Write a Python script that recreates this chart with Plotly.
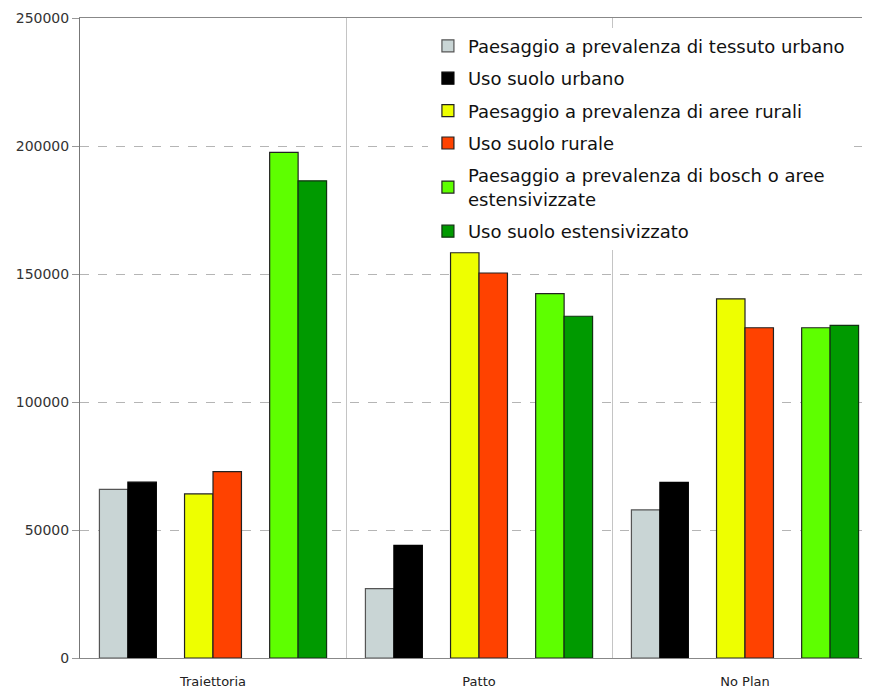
import plotly.graph_objects as go

# Scenari sull'asse x
SCENARI = ["Traiettoria", "Patto", "No Plan"]

# Valori per serie
PAES_URBANO = [65900, 27100, 57900]
USO_URBANO = [68700, 44000, 68600]
PAES_RURALE = [64100, 158300, 140300]
USO_RURALE = [72800, 150400, 129000]
PAES_BOSCHI = [197500, 142300, 129000]
USO_ESTENS = [186400, 133500, 129900]

SERIE = [
    ("Paesaggio a prevalenza di tessuto urbano", PAES_URBANO, "#c9d5d5", "#555555"),
    ("Uso suolo urbano", USO_URBANO, "#000000", "#000000"),
    ("Paesaggio a prevalenza di aree rurali", PAES_RURALE, "#eeff00", "#222222"),
    ("Uso suolo rurale", USO_RURALE, "#ff4200", "#222222"),
    ("Paesaggio a prevalenza di bosch o aree<br>estensivizzate", PAES_BOSCHI, "#5eff00", "#222222"),
    ("Uso suolo estensivizzato", USO_ESTENS, "#009a00", "#113311"),
]

# coppie di barre affiancate, separate da uno spazio
BAR_W = 0.107
PAIR_STEP = 0.32
offsets = []
for p in (-1, 0, 1):
    offsets.append(p * PAIR_STEP - BAR_W)
    offsets.append(p * PAIR_STEP)

fig = go.Figure()
for i, ((name, vals, col, line), off) in enumerate(zip(SERIE, offsets)):
    fig.add_trace(go.Bar(
        x=SCENARI, y=vals, name=name,
        width=BAR_W, offset=off, legendgroup=f"g{i}",
        marker=dict(color=col, line=dict(color=line, width=1.2)),
    ))

# la pagina ha un margine di 8px: margini ridotti di conseguenza
fig.update_layout(
    width=870, height=690,
    margin=dict(l=72, r=0, t=10, b=40),
    paper_bgcolor="white", plot_bgcolor="white",
    font=dict(family="DejaVu Sans", color="#222222"),
    barmode="overlay",
    showlegend=True,
    legend=dict(
        x=0.436, y=0.985, xanchor="left", yanchor="top",
        bgcolor="white", font=dict(size=18, color="#111111"),
        traceorder="grouped", tracegroupgap=6, itemwidth=30,
    ),
)
fig.update_xaxes(
    range=[-0.5, 2.5], automargin=False,
    tickson="boundaries", showgrid=True, gridcolor="#c4c4c4", gridwidth=1,
    showline=True, linecolor="#888888", mirror=True,
    ticks="", ticklabelstandoff=11, tickfont=dict(size=13, color="#222222"),
)
fig.update_yaxes(
    range=[0, 250000], dtick=50000, tickformat="d", automargin=False,
    showgrid=True, gridcolor="#b5b5b5", griddash="dash",
    showline=True, linecolor="#777777", ticks="outside", ticklen=7, tickcolor="#999999",
    tickfont=dict(size=14, color="#333333"), zeroline=False,
)

fig.write_html("out.html")
